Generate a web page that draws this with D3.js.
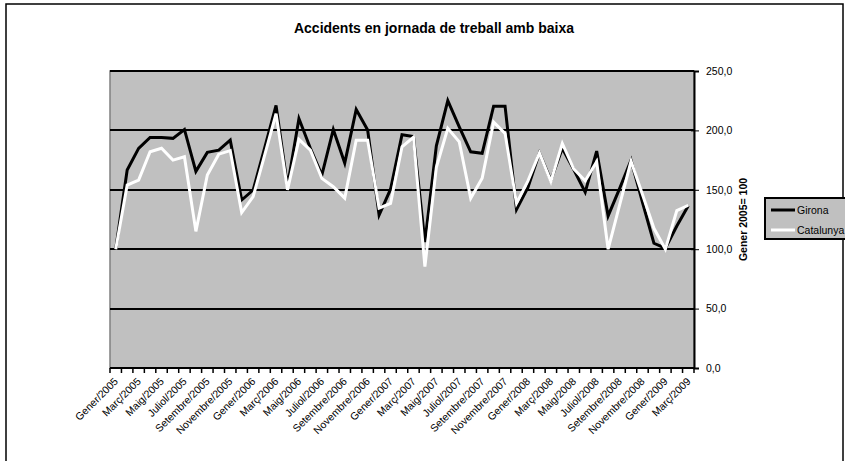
<!DOCTYPE html>
<html>
<head>
<meta charset="utf-8">
<script src="https://cdn.jsdelivr.net/npm/d3@7"></script>
<style>
  html, body { margin: 0; padding: 0; background: #fff; }
  svg { display: block; font-family: "Liberation Sans", Arial, sans-serif; }
</style>
</head>
<body>
<svg id="chart" width="845" height="461"></svg>
<script>
const monthNames = ["Gener","Febrer","Març","Abril","Maig","Juny","Juliol","Agost","Setembre","Octubre","Novembre","Desembre"];
const categories = [];
for (let y = 2005; y <= 2009; y++) {
  for (let m = 0; m < 12; m++) {
    if (y === 2009 && m > 2) break;
    categories.push(monthNames[m] + "/" + y);
  }
}
const girona = [100, 166.6, 184.9, 194, 194, 193.3, 200.8, 165.5, 181.5, 183.4,
  191.8, 141.4, 149.8, 185, 221, 153, 210, 185, 162.4, 200.8,
  172.5, 217.6, 200.3, 128.8, 150.5, 196.3, 194.8, 106, 187, 225,
  203, 182, 180.7, 220.4, 220.4, 133.5, 152, 181, 158, 184.9,
  167, 148, 182.6, 128, 151, 175, 139.5, 105, 100.8, 119.5, 136.5];
const catalunya = [100, 154, 158.2, 182, 185, 175, 177.8, 115, 162.4, 180,
  183, 130.8, 144.2, 179, 214, 150, 192.5, 183.4, 159.6, 152.6,
  143, 191.8, 191.8, 134.5, 138.6, 186.2, 194.2, 85.4, 169, 201.7,
  190.4, 142.9, 159.7, 207, 197.5, 138.6, 157.5, 180.9, 157, 189,
  167.5, 157.5, 173.6, 100, 137, 174, 146, 117.6, 100, 132.5, 137];
const yTicks = [0, 50, 100, 150, 200, 250];
const seriesNames = ["Girona", "Catalunya"];
const title = "Accidents en jornada de treball amb baixa";
const yTitle = "Gener 2005= 100";

const svg = d3.select("#chart");
const L = 110, R = 694, T = 71, B = 368;

// chart area border
svg.append("rect").attr("x", 6).attr("y", 4).attr("width", 837).attr("height", 470)
  .attr("fill", "#fff").attr("stroke", "#000").attr("stroke-width", 1.5);

svg.append("text").attr("x", 434).attr("y", 33).attr("text-anchor", "middle")
  .attr("font-size", 14).attr("font-weight", "bold").text(title);

const x = d3.scaleBand().domain(d3.range(categories.length)).range([L, R]).paddingInner(0).paddingOuter(0);
const y = d3.scaleLinear().domain([0, 250]).range([B, T]);
const cx = i => x(i) + x.bandwidth() / 2;

// plot area
svg.append("rect").attr("x", L).attr("y", T).attr("width", R - L).attr("height", B - T)
  .attr("fill", "#c0c0c0").attr("stroke", "#808080").attr("stroke-width", 1.5);

// gridlines
svg.append("g").selectAll("line").data(yTicks.filter(d => d > 0)).join("line")
  .attr("x1", L).attr("x2", R).attr("y1", d => Math.round(y(d))).attr("y2", d => Math.round(y(d)))
  .attr("stroke", "#000").attr("stroke-width", 2);

// right y axis
const yAxis = d3.axisRight(y).tickValues(yTicks).tickSize(5).tickPadding(7)
  .tickFormat(d => d3.format(".1f")(d).replace(".", ","));
const gy = svg.append("g").attr("transform", `translate(${R},0)`).call(yAxis);
gy.select(".domain").attr("stroke", "#000").attr("stroke-width", 2);
gy.selectAll(".tick line").attr("stroke", "#000").attr("x1", -3);
gy.selectAll(".tick text").attr("font-size", 10.5).attr("font-family", "Liberation Sans, Arial, sans-serif").attr("fill", "#000");

// bottom axis line and ticks at category boundaries
svg.append("line").attr("x1", L).attr("x2", R).attr("y1", B).attr("y2", B)
  .attr("stroke", "#000").attr("stroke-width", 2);
const bounds = d3.range(categories.length + 1).map(i => L + i * x.step());
svg.append("g").selectAll("line").data(bounds).join("line")
  .attr("x1", d => d).attr("x2", d => d).attr("y1", B).attr("y2", B + 5)
  .attr("stroke", "#000").attr("stroke-width", 1.5);

// x labels every other month
svg.append("g").selectAll("text").data(categories.map((c, i) => ({c, i})).filter(d => d.i % 2 === 0)).join("text")
  .attr("transform", d => `translate(${cx(d.i) + 3},${B + 14}) rotate(-45)`)
  .attr("text-anchor", "end").attr("font-size", 10.5).text(d => d.c);

// y axis title
svg.append("text").attr("transform", `translate(747,${(T + B) / 2}) rotate(-90)`)
  .attr("text-anchor", "middle").attr("font-size", 10.5).attr("font-weight", "bold").text(yTitle);

// lines
const line = d3.line().x((d, i) => cx(i)).y(d => y(d));
svg.append("path").datum(girona).attr("d", line).attr("fill", "none")
  .attr("stroke", "#000").attr("stroke-width", 3).attr("stroke-linejoin", "miter");
svg.append("path").datum(catalunya).attr("d", line).attr("fill", "none")
  .attr("stroke", "#fff").attr("stroke-width", 3).attr("stroke-linejoin", "miter");

// legend
const lg = svg.append("g");
lg.append("rect").attr("x", 765).attr("y", 198).attr("width", 90).attr("height", 41)
  .attr("fill", "#c0c0c0").attr("stroke", "#000").attr("stroke-width", 2);
const colors = ["#000", "#fff"];
seriesNames.forEach((n, k) => {
  const yy = 210 + k * 20;
  lg.append("line").attr("x1", 771).attr("x2", 795).attr("y1", yy).attr("y2", yy)
    .attr("stroke", colors[k]).attr("stroke-width", 3);
  lg.append("text").attr("x", 797).attr("y", yy + 4).attr("font-size", 10.5).text(n);
});
</script>
</body>
</html>
